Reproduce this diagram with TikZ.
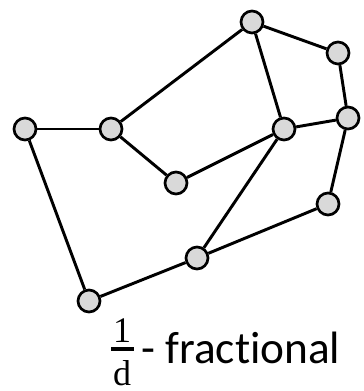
\documentclass[tikz,border=0pt]{standalone}
\usepackage{fontspec}
\setmainfont[Ligatures=NoCommon]{Carlito}
\newfontfamily\fracfont{Liberation Serif}
\usetikzlibrary{positioning}
\definecolor{vgray}{HTML}{D9D9D9}

\begin{document}
\begin{tikzpicture}[x=0.75pt, y=-0.75pt,
    vert/.style={circle, draw=black, fill=vgray, line width=2pt, minimum size=16.5pt, inner sep=0pt},
    edge/.style={line width=2.2pt},
    fracpart/.style={anchor=base, inner sep=0pt, text depth=0pt, font=\fracfont\fontsize{27}{30}\selectfont}]
  \useasboundingbox (0,0) rectangle (363,391);
  % Knoten
  \node[vert] (v1) at (25,129) {};
  \node[vert] (v2) at (111,129) {};
  \node[vert] (v3) at (176,183) {};
  \node[vert] (v4) at (252,22) {};
  \node[vert] (v5) at (284,129) {};
  \node[vert] (v6) at (338,53) {};
  \node[vert] (v7) at (348,118) {};
  \node[vert] (v8) at (328,204) {};
  \node[vert] (v9) at (197,258) {};
  \node[vert] (v10) at (89,301) {};
  % Kanten
  \draw[edge] (v1) -- (v2);
  \draw[edge] (v2) -- (v4);
  \draw[edge] (v2) -- (v3);
  \draw[edge] (v3) -- (v5);
  \draw[edge] (v4) -- (v5);
  \draw[edge] (v4) -- (v6);
  \draw[edge] (v6) -- (v7);
  \draw[edge] (v5) -- (v7);
  \draw[edge] (v7) -- (v8);
  \draw[edge] (v8) -- (v9);
  \draw[edge] (v5) -- (v9);
  \draw[edge] (v9) -- (v10);
  \draw[edge] (v10) -- (v1);
  % Beschriftung
  \node[fracpart] (num) at (122,342) {1};
  \node[fracpart] (den) at (122,385) {d};
  \draw[line width=2.4pt] (111,349) -- (134,349);
  \node[anchor=base west, inner sep=0pt, font=\fontsize{34}{40}\selectfont] (txt) at (141,363) {- fractional};
\end{tikzpicture}
\end{document}
